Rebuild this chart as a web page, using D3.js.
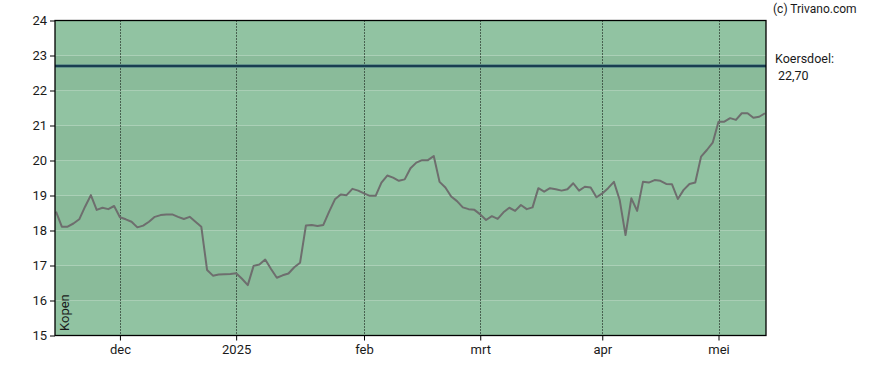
<!DOCTYPE html>
<html><head><meta charset="utf-8">
<script src="https://cdn.jsdelivr.net/npm/d3@7"></script>
<style>body{margin:0;background:#fff}svg{display:block}text{font-family:Roboto,"Liberation Sans",sans-serif;fill:#1a1a1a}</style>
</head><body><svg id="c" width="888" height="370"></svg>
<script>
const prices = [18.54,18.11,18.11,18.20,18.32,18.68,19.01,18.59,18.65,18.61,18.70,18.38,18.32,18.25,18.09,18.14,18.25,18.39,18.44,18.46,18.46,18.39,18.33,18.39,18.25,18.11,16.87,16.71,16.74,16.75,16.76,16.78,16.62,16.44,16.99,17.03,17.17,16.90,16.65,16.72,16.77,16.95,17.08,
18.14,18.16,18.13,18.16,18.54,18.89,19.03,19.01,19.19,19.14,19.06,18.99,18.99,19.37,19.57,19.51,19.42,19.46,19.78,19.94,20.01,20.01,20.13,19.39,19.23,18.97,18.84,18.66,18.61,18.59,18.46,18.30,18.41,18.33,18.52,18.65,18.56,18.73,18.61,18.66,19.21,19.11,19.21,19.18,19.14,19.18,19.35,19.14,19.25,19.23,18.95,19.06,19.21,19.39,18.87,17.87,18.92,18.56,19.39,19.37,19.44,19.42,19.33,19.32,18.90,19.16,19.33,19.37,20.11,20.30,20.51,21.11,21.11,21.21,21.16,21.35,21.35,21.22,21.25,21.35];
const monthLabels = ["dec","2025","feb","mrt","apr","mei"];
const monthIndex = [11,31,53,73,94,114];
const yTicks = [15,16,17,18,19,20,21,22,23,24];
const target = 22.70;
const targetLabel = "22,70";

const svg = d3.select("#c");
const L=55, R=766, T=20.5, B=335.5;
const x = d3.scaleLinear().domain([0, prices.length-1]).range([56, 765]);
const y = d3.scaleLinear().domain([15,24]).range([B,T]);

// bands
svg.append("g").selectAll("rect").data(d3.range(15,24)).join("rect")
  .attr("x",L).attr("width",R-L)
  .attr("y",d=>y(d+1)).attr("height",d=>y(d)-y(d+1))
  .attr("fill",d=>(d%2===0)?"#8abb9a":"#91c3a2");

// vertical dotted grid
svg.append("g").selectAll("line").data(monthIndex).join("line")
  .attr("x1",d=>Math.round(x(d))+0.5).attr("x2",d=>Math.round(x(d))+0.5)
  .attr("y1",T).attr("y2",B)
  .attr("stroke","#000").attr("stroke-width",1).attr("stroke-dasharray","1,2");

// target line
svg.append("line").attr("x1",L).attr("x2",R).attr("y1",y(target)).attr("y2",y(target))
  .attr("stroke","#3b6b78").attr("stroke-width",3);
svg.append("line").attr("x1",L).attr("x2",R).attr("y1",y(target)).attr("y2",y(target))
  .attr("stroke","#0f2f44").attr("stroke-width",1.5);

// price line
svg.append("path").datum(prices)
  .attr("d",d3.line().x((d,i)=>x(i)).y(d=>y(d)))
  .attr("fill","none").attr("stroke","#6e6e6e").attr("stroke-width",2).attr("stroke-linejoin","round");

// frame
svg.append("rect").attr("x",L).attr("y",T).attr("width",R-L).attr("height",B-T)
  .attr("fill","none").attr("stroke","#000").attr("stroke-width",1.3);

// axes
const ya = svg.append("g").attr("transform",`translate(${L},0)`)
  .call(d3.axisLeft(y).tickValues(yTicks).tickSize(5).tickPadding(3));
const xa = svg.append("g").attr("transform",`translate(0,${B})`)
  .call(d3.axisBottom(x).tickValues(monthIndex).tickFormat((d,i)=>monthLabels[i]).tickSize(5).tickPadding(4));
[ya,xa].forEach(a=>{a.select(".domain").remove();
  a.selectAll("line").attr("stroke","#000");
  a.selectAll("text").attr("font-size",13).attr("fill","#1a1a1a").style("font-family","Roboto, sans-serif");});

svg.append("text").attr("transform",`translate(69,331) rotate(-90)`).attr("font-size",13).text("Kopen");
svg.append("text").attr("x",773).attr("y",13).attr("font-size",12).text("(c) Trivano.com");
svg.append("text").attr("x",775).attr("y",63).attr("font-size",12.5).text("Koersdoel:");
svg.append("text").attr("x",778).attr("y",80).attr("font-size",12.5).text(targetLabel);
</script></body></html>
